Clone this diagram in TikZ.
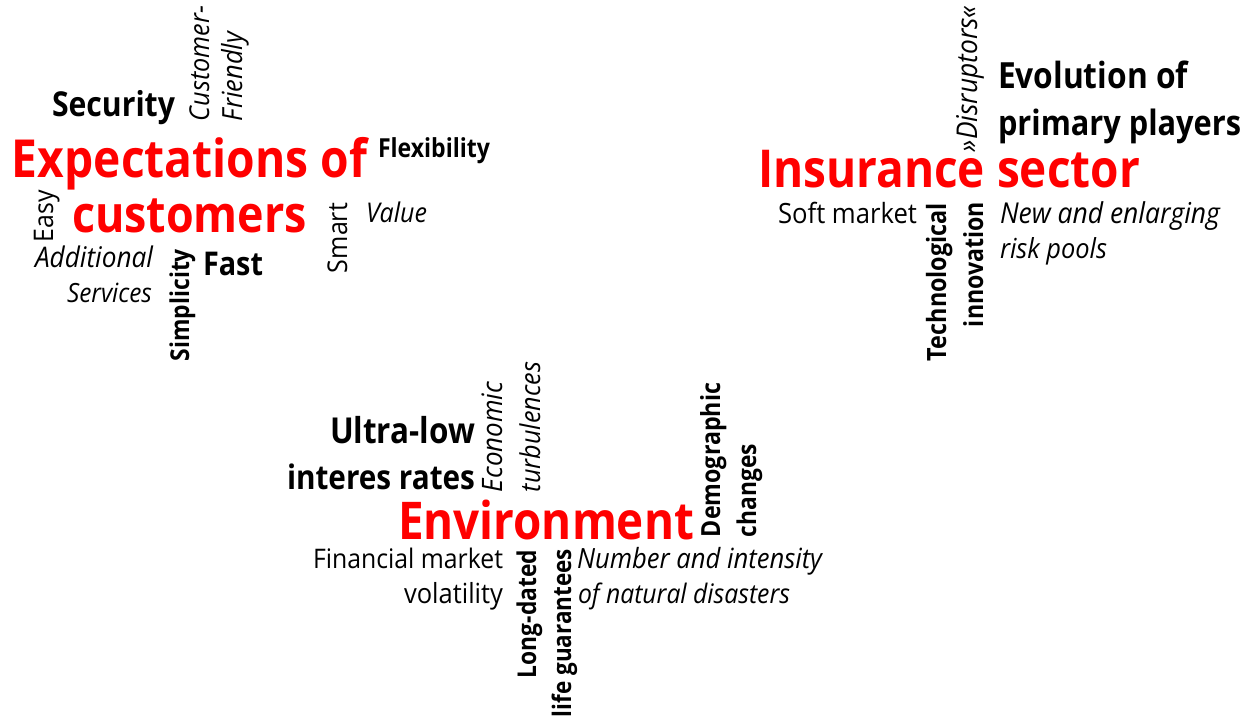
\documentclass[tikz,border=0pt]{standalone}
\usepackage{fontspec}
\setmainfont{Open Sans}[FakeStretch=0.92, BoldFeatures={FakeStretch=0.88}]
\usepackage{graphicx}
\definecolor{keyred}{RGB}{255,0,0}
% set a word so that it is exactly #1 pt long
\newcommand{\fitto}[2]{\resizebox{#1pt}{!}{#2}}
\tikzset{
  word/.style={inner sep=0pt, outer sep=0pt, anchor=base west, text=black,
               font=\fontsize{20}{24}\selectfont},
  key/.style={word, text=keyred, font=\fontsize{20}{24}\selectfont\bfseries},
  heavy/.style={word, font=\fontsize{20}{24}\selectfont\bfseries},
  slant/.style={word, font=\fontsize{20}{24}\selectfont\itshape},
  up/.style={rotate=90}
}
\begin{document}
\begin{tikzpicture}[x=1pt,y=-1pt]
\useasboundingbox (0,0) rectangle (1247,721);

% --- customers cluster
\node[key]   (expA) at (12,177)  {\fitto{355}{Expectations of}};
\node[key]   (expB) at (72,232)  {\fitto{235}{customers}};
\node[heavy] (sec)  at (52,116)  {\fitto{123}{Security}};
\node[slant,up] (cus) at (209,121) {\fitto{115}{Customer-}};
\node[slant,up] (fri) at (242,121) {\fitto{89}{Friendly}};
\node[heavy] (flx)  at (378,157) {\fitto{112}{Flexibility}};
\node[slant] (val)  at (366,222) {\fitto{61}{Value}};
\node[word,up] (sma) at (347,273) {\fitto{70}{Smart}};
\node[word,up] (eas) at (53,242)  {\fitto{52}{Easy}};
\node[slant] (add)  at (35,267)  {\fitto{118}{Additional}};
\node[slant] (ser)  at (67,302)  {\fitto{85}{Services}};
\node[heavy,up] (sim) at (189,361) {\fitto{112}{Simplicity}};
\node[heavy] (fas)  at (203,275) {\fitto{60}{Fast}};

% --- insurance sector cluster
\node[key]   (ins)  at (758,187) {\fitto{382}{Insurance sector}};
\node[heavy] (evoA) at (998,88)  {\fitto{190}{Evolution of}};
\node[heavy] (evoB) at (998,135) {\fitto{243}{primary players}};
\node[slant,up] (dis) at (977,152) {\fitto{146}{»Disruptors«}};
\node[word]  (sof)  at (778,223) {\fitto{139}{Soft market}};
\node[heavy,up] (tec) at (946,361) {\fitto{158}{Technological}};
\node[heavy,up] (inn) at (983,327) {\fitto{125}{innovation}};
\node[slant] (newA) at (1000,223) {\fitto{220}{New and enlarging}};
\node[slant] (newB) at (1000,258) {\fitto{107}{risk pools}};

% --- environment cluster
\node[key]   (env)  at (398,539) {\fitto{296}{Environment}};
\node[heavy] (ultA) at (330,443) {\fitto{145}{Ultra-low}};
\node[heavy] (ultB) at (287,489) {\fitto{188}{interes rates}};
\node[slant,up] (eco) at (502,492) {\fitto{110}{Economic}};
\node[slant,up] (tur) at (540,492) {\fitto{130}{turbulences}};
\node[heavy,up] (dem) at (720,537) {\fitto{154}{Demographic}};
\node[heavy,up] (cha) at (756,537) {\fitto{93}{changes}};
\node[word]  (finA) at (313,568) {\fitto{190}{Financial market}};
\node[word]  (finB) at (404,603) {\fitto{99}{volatility}};
\node[heavy,up] (lonA) at (536,678) {\fitto{128}{Long-dated}};
\node[heavy,up] (lonB) at (571,717) {\fitto{168}{life guarantees}};
\node[slant] (natA) at (577,568) {\fitto{245}{Number and intensity}};
\node[slant] (natB) at (578,603) {\fitto{212}{of natural disasters}};
\end{tikzpicture}
\end{document}
